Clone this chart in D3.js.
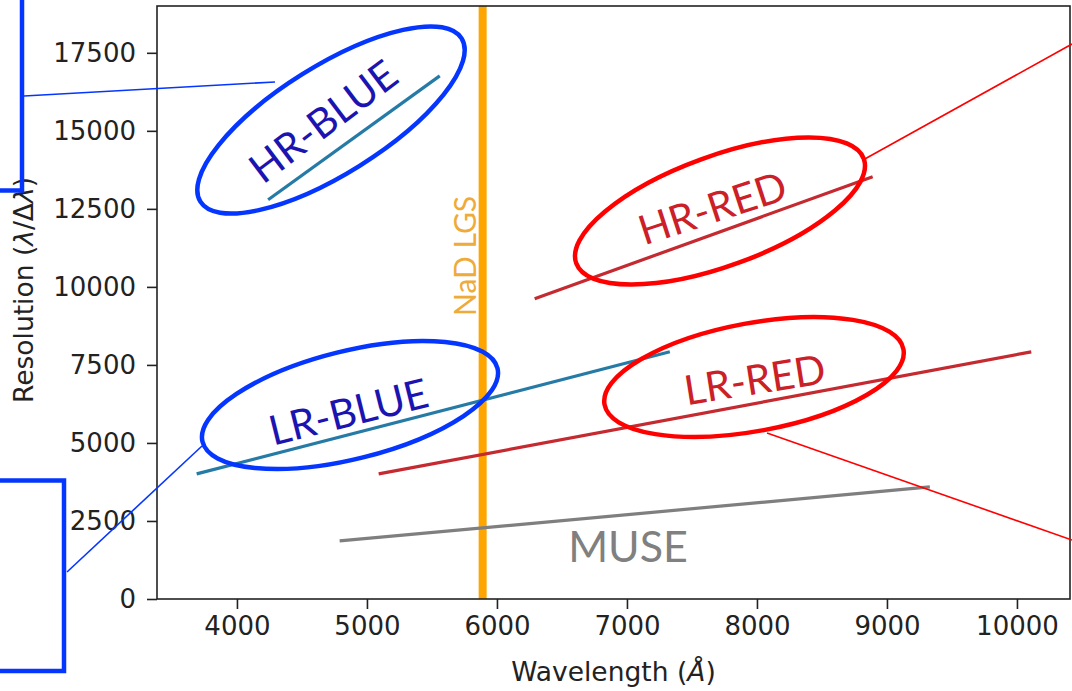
<!DOCTYPE html>
<html>
<head>
<meta charset="utf-8">
<script src="https://cdn.jsdelivr.net/npm/d3@7"></script>
<style>
  html, body { margin: 0; padding: 0; background: #fff; }
  svg { display: block; }
</style>
</head>
<body>
<svg id="chart" width="1072" height="691"></svg>
<script>
// Spectrograph arms: wavelength coverage (Å) and resolving power at each end
const arms        = ["HR-BLUE", "LR-BLUE", "HR-RED", "LR-RED", "MUSE"];
const lambdaStart = [4240, 3690, 6290, 5090, 4790];
const lambdaEnd   = [5560, 7330, 8890, 10110, 9330];
const resStart    = [12790, 4010, 9620, 4010, 1860];
const resEnd      = [16760, 7920, 13530, 7920, 3590];
const armColors   = ["#257ba6", "#257ba6", "#c42a30", "#c42a30", "#7f7f7f"];

// Sodium laser guide star wavelength
const nadWavelength = 5890;

const xTicks = [4000, 5000, 6000, 7000, 8000, 9000, 10000];
const yTicks = [0, 2500, 5000, 7500, 10000, 12500, 15000, 17500];

// Callout groups (one ellipse + label per arm)
const calloutNames  = ["HR-BLUE", "LR-BLUE", "HR-RED", "LR-RED"];
const calloutColors = ["#0536ff", "#0536ff", "#ff0000", "#ff0000"];
const labelColors   = ["#1c14b0", "#1c14b0", "#cc2028", "#cc2028"];

const svg = d3.select("#chart");
const plot = { left: 157, right: 1070, top: 6, bottom: 599 };

const x = d3.scaleLinear().domain([3385, 10408]).range([plot.left, plot.right]);
const y = d3.scaleLinear().domain([0, 19000]).range([plot.bottom, plot.top]);

const tickFont = "DejaVu Sans, sans-serif";
const noteFont = "Lato, 'Open Sans', sans-serif";

// Sodium line across the full height
svg.append("line")
  .attr("x1", x(nadWavelength)).attr("x2", x(nadWavelength))
  .attr("y1", plot.top).attr("y2", plot.bottom)
  .attr("stroke", "#ffa500").attr("stroke-width", 8);

svg.append("text")
  .attr("transform", `translate(${x(nadWavelength) - 7},256) rotate(-90)`)
  .attr("text-anchor", "middle")
  .attr("font-family", noteFont).attr("font-size", 30)
  .attr("fill", "#eeab3a")
  .text("NaD LGS");

// Resolution tracks for each arm
svg.append("g").selectAll("line")
  .data(arms)
  .join("line")
  .attr("x1", (d, i) => x(lambdaStart[i]))
  .attr("x2", (d, i) => x(lambdaEnd[i]))
  .attr("y1", (d, i) => y(resStart[i]))
  .attr("y2", (d, i) => y(resEnd[i]))
  .attr("stroke", (d, i) => armColors[i])
  .attr("stroke-width", 3.2);

// Frame
svg.append("rect")
  .attr("x", plot.left).attr("y", plot.top)
  .attr("width", plot.right - plot.left).attr("height", plot.bottom - plot.top)
  .attr("fill", "none").attr("stroke", "#222").attr("stroke-width", 1.6);

// Axes
const xAxis = svg.append("g")
  .attr("transform", `translate(0,${plot.bottom})`)
  .call(d3.axisBottom(x).tickValues(xTicks).tickFormat(d3.format("d")).tickSize(10).tickPadding(8));
const yAxis = svg.append("g")
  .attr("transform", `translate(${plot.left},0)`)
  .call(d3.axisLeft(y).tickValues(yTicks).tickFormat(d3.format("d")).tickSize(10).tickPadding(11));

[xAxis, yAxis].forEach(g => {
  g.select(".domain").remove();
  g.selectAll(".tick line").attr("stroke", "#222").attr("stroke-width", 1.6);
  g.selectAll(".tick text").attr("font-family", tickFont).attr("font-size", 26).attr("fill", "#222");
});

// Axis titles
const xTitle = svg.append("text")
  .attr("x", (plot.left + plot.right) / 2).attr("y", 681)
  .attr("text-anchor", "middle")
  .attr("font-family", tickFont).attr("font-size", 26.5).attr("fill", "#222");
xTitle.append("tspan").text("Wavelength (");
xTitle.append("tspan").attr("font-style", "italic").text("Å");
xTitle.append("tspan").text(")");

const yTitle = svg.append("text")
  .attr("transform", "translate(33,290) rotate(-90)")
  .attr("text-anchor", "middle")
  .attr("font-family", tickFont).attr("font-size", 26.5).attr("fill", "#222");
yTitle.append("tspan").text("Resolution (");
yTitle.append("tspan").attr("font-style", "italic").text("λ");
yTitle.append("tspan").text("/Δ");
yTitle.append("tspan").attr("font-style", "italic").text("λ");
yTitle.append("tspan").text(")");

// MUSE label
svg.append("text")
  .attr("x", 628).attr("y", 562)
  .attr("text-anchor", "middle")
  .attr("font-family", noteFont).attr("font-size", 43)
  .attr("fill", "#808080")
  .text("MUSE");

// Callout ellipses and labels
const ellipseGeom = [
  { cx: 331, cy: 120, rx: 154, ry: 54, rot: -32 },
  { cx: 350, cy: 405, rx: 152, ry: 54, rot: -14 },
  { cx: 720, cy: 211, rx: 153, ry: 55, rot: -20 },
  { cx: 754, cy: 377, rx: 152, ry: 54, rot: -10.5 }
];
const labelGeom = [
  { x: 332, y: 133, rot: -37 },
  { x: 352, y: 426, rot: -14 },
  { x: 717, y: 222, rot: -18 },
  { x: 757, y: 394, rot: -9 }
];

const callouts = svg.append("g");
callouts.selectAll("ellipse")
  .data(calloutNames)
  .join("ellipse")
  .attr("transform", (d, i) => `translate(${ellipseGeom[i].cx},${ellipseGeom[i].cy}) rotate(${ellipseGeom[i].rot})`)
  .attr("rx", (d, i) => ellipseGeom[i].rx)
  .attr("ry", (d, i) => ellipseGeom[i].ry)
  .attr("fill", "none")
  .attr("stroke", (d, i) => calloutColors[i])
  .attr("stroke-width", 4.5);

callouts.selectAll("text")
  .data(calloutNames)
  .join("text")
  .attr("transform", (d, i) => `translate(${labelGeom[i].x},${labelGeom[i].y}) rotate(${labelGeom[i].rot})`)
  .attr("text-anchor", "middle")
  .attr("font-family", noteFont).attr("font-size", 41)
  .attr("fill", (d, i) => labelColors[i])
  .text(d => d);

// Leader boxes and connectors
svg.append("rect")
  .attr("x", -20).attr("y", -20).attr("width", 42).attr("height", 210.5)
  .attr("fill", "none").attr("stroke", "#0536ff").attr("stroke-width", 4.5);
svg.append("rect")
  .attr("x", -20).attr("y", 480.5).attr("width", 84).attr("height", 190.5)
  .attr("fill", "none").attr("stroke", "#0536ff").attr("stroke-width", 4.5);

const connectors = [
  { x1: 24, y1: 96, x2: 275, y2: 82, c: "#0536ff" },
  { x1: 67, y1: 572, x2: 202, y2: 446, c: "#0536ff" },
  { x1: 863, y1: 160, x2: 1072, y2: 44, c: "#ff0000" },
  { x1: 767, y1: 433, x2: 1072, y2: 540, c: "#ff0000" }
];
svg.append("g").selectAll("line")
  .data(connectors)
  .join("line")
  .attr("x1", d => d.x1).attr("y1", d => d.y1)
  .attr("x2", d => d.x2).attr("y2", d => d.y2)
  .attr("stroke", d => d.c).attr("stroke-width", 1.6);
</script>
</body>
</html>
